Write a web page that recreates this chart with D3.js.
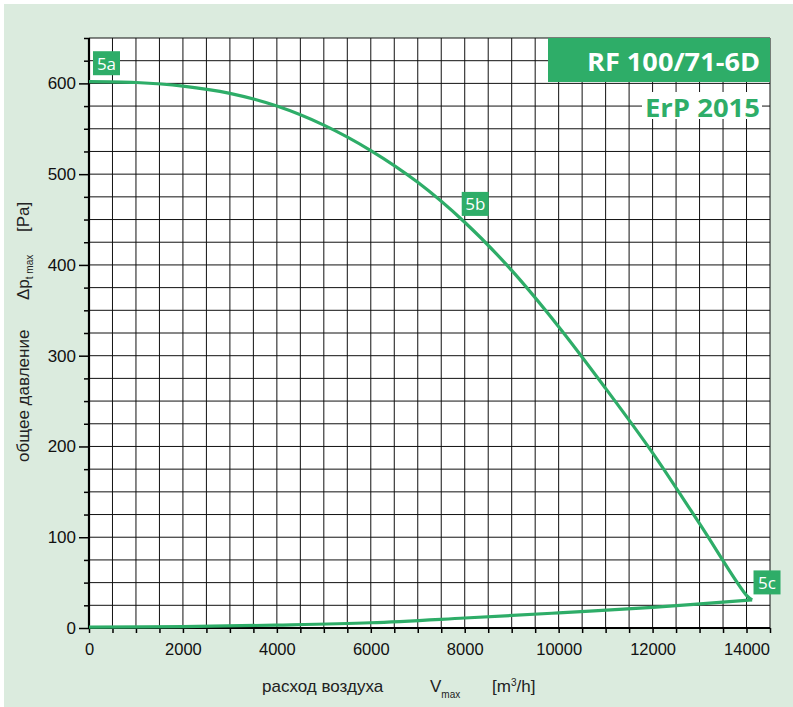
<!DOCTYPE html>
<html><head><meta charset="utf-8">
<script src="https://cdn.jsdelivr.net/npm/d3@7"></script>
<style>
html,body{margin:0;padding:0;background:#fff;}
svg{display:block;}
</style></head>
<body>
<svg id="chart" width="793" height="707"></svg>
<script>
// ---- data ----
const upperX = [0, 1000, 2000, 3000, 4000, 5000, 6000, 7000, 8000, 9000, 10000, 11000, 12000, 13000, 14000, 14120];
const upperY = [602, 601, 597, 589, 575, 554, 526, 491, 447, 394, 332, 264, 193, 115, 36, 31];
const lowerX = [0, 2000, 4000, 6000, 8000, 10000, 12000, 14120];
const lowerY = [1, 1.5, 3.2, 5.8, 11, 16.7, 22.8, 31];
const xTicks = [0, 2000, 4000, 6000, 8000, 10000, 12000, 14000];
const yTicks = [0, 100, 200, 300, 400, 500, 600];
const pointNames = ["5a", "5b", "5c"];
const pointX = [85, 7936, 14149];
const pointY = [609, 454, 37];
const title = "RF 100/71-6D";
const subtitle = "ErP 2015";

// ---- drawing ----
const GREEN = "#2ead68";
const svg = d3.select("#chart");
svg.append("rect").attr("x",4).attr("y",4).attr("width",789).attr("height",703).attr("fill","#dbebde");

const x = d3.scaleLinear().domain([0,14500]).range([89,770]);
const y = d3.scaleLinear().domain([0,650]).range([628,38]);

const g = svg.append("g");
g.append("rect").attr("x",x(0)).attr("y",y(650)).attr("width",x(14500)-x(0)).attr("height",y(0)-y(650)).attr("fill","#fff");

// grid
const gx = d3.range(0, 14501, 500);
const gy = d3.range(0, 651, 25);
g.selectAll("line.gv").data(gx).join("line").attr("class","gv")
  .attr("x1",d=>x(d)).attr("x2",d=>x(d)).attr("y1",y(0)).attr("y2",y(650))
  .attr("stroke","#111").attr("stroke-width",1);
g.selectAll("line.gh").data(gy).join("line").attr("class","gh")
  .attr("x1",x(0)).attr("x2",x(14500)).attr("y1",d=>y(d)).attr("y2",d=>y(d))
  .attr("stroke","#111").attr("stroke-width",1);

// axes
const xAxis = d3.axisBottom(x).tickValues(gx).tickSize(5)
  .tickFormat(d => xTicks.includes(d) ? d : "");
const xa = svg.append("g").attr("transform",`translate(0,${y(0)})`).call(xAxis);
xa.select(".domain").remove();
xa.selectAll(".tick line").attr("stroke","#000").attr("stroke-width",1.5);
xa.selectAll(".tick text").attr("font-family","Liberation Sans, Arial, sans-serif").attr("font-size",16.5).attr("fill","#111").attr("dy","1.15em");

const yAxis = d3.axisLeft(y).tickValues(gy).tickSize(5)
  .tickFormat(d => yTicks.includes(d) ? d : "");
const ya = svg.append("g").attr("transform",`translate(${x(0)},0)`).call(yAxis);
ya.select(".domain").remove();
ya.selectAll(".tick line").attr("stroke","#000").attr("stroke-width",1.5)
  .attr("x2", d => yTicks.includes(d) ? -10 : -5);
ya.selectAll(".tick text").attr("font-family","Liberation Sans, Arial, sans-serif").attr("font-size",17).attr("fill","#111").attr("x",-13);

svg.append("line").attr("x1",x(0)).attr("x2",x(0)).attr("y1",y(650)).attr("y2",y(0)+1).attr("stroke","#000").attr("stroke-width",2.2);
svg.append("line").attr("x1",x(0)-1).attr("x2",x(14500)).attr("y1",y(0)).attr("y2",y(0)).attr("stroke","#000").attr("stroke-width",2.2);

// curves
const upper = upperX.map((d,i)=>[d, upperY[i]]);
const lower = lowerX.map((d,i)=>[d, lowerY[i]]);
const line = d3.line().x(d=>x(d[0])).y(d=>y(d[1])).curve(d3.curveCatmullRom.alpha(0.5));
svg.append("path").attr("d", line(upper)).attr("fill","none").attr("stroke",GREEN).attr("stroke-width",3.2).attr("stroke-linejoin","miter");
svg.append("path").attr("d", line(lower)).attr("fill","none").attr("stroke",GREEN).attr("stroke-width",3.2);

// point labels
const pl = svg.selectAll("g.pl").data(pointNames).join("g").attr("class","pl")
  .attr("transform",(d,i)=>`translate(${x(pointX[i])},${y(pointY[i])})`);
pl.append("rect").attr("x",0).attr("y",-24).attr("width",27).attr("height",24).attr("fill",GREEN);
pl.append("text").attr("x",13.5).attr("y",-5.5).attr("text-anchor","middle")
  .attr("font-family","Open Sans, sans-serif").attr("font-size",17).attr("fill","#fff").text(d=>d);

// title boxes
svg.append("rect").attr("x",548).attr("y",38).attr("width",222).attr("height",44).attr("fill",GREEN);
svg.append("text").attr("x",760).attr("y",70.5).attr("text-anchor","end")
  .attr("font-family","Open Sans, sans-serif").attr("font-weight",700).attr("font-size",24.5)
  .attr("fill","#fff").attr("textLength",173).attr("lengthAdjust","spacingAndGlyphs").text(title);
svg.append("rect").attr("x",642).attr("y",92).attr("width",120).attr("height",27).attr("fill","#fff");
svg.append("text").attr("x",760).attr("y",116.5).attr("text-anchor","end")
  .attr("font-family","Open Sans, sans-serif").attr("font-weight",700).attr("font-size",25.5)
  .attr("fill",GREEN).attr("textLength",115).attr("lengthAdjust","spacingAndGlyphs").text(subtitle);

// axis titles
const F = "Liberation Sans, Arial, sans-serif";
const xt = svg.append("text").attr("y",691.5).attr("font-family",F).attr("font-size",17).attr("fill","#222");
xt.append("tspan").attr("x",262).text("расход воздуха");
xt.append("tspan").attr("x",430).text("V");
xt.append("tspan").attr("font-size",10).attr("dy",6).text("max");
xt.append("tspan").attr("x",492).attr("dy",-6).text("[m");
xt.append("tspan").attr("font-size",10).attr("dy",-6).text("3");
xt.append("tspan").attr("dy",6).text("/h]");

const yt = svg.append("text").attr("transform","translate(29,0) rotate(-90)").attr("font-family",F).attr("font-size",17).attr("fill","#222");
yt.append("tspan").attr("x",-462).text("общее давление");
yt.append("tspan").attr("x",-300).text("Δp");
yt.append("tspan").attr("font-size",10).attr("dy",4).text("t max");
yt.append("tspan").attr("x",-232).attr("dy",-4).text("[Pa]");
</script>
</body></html>
